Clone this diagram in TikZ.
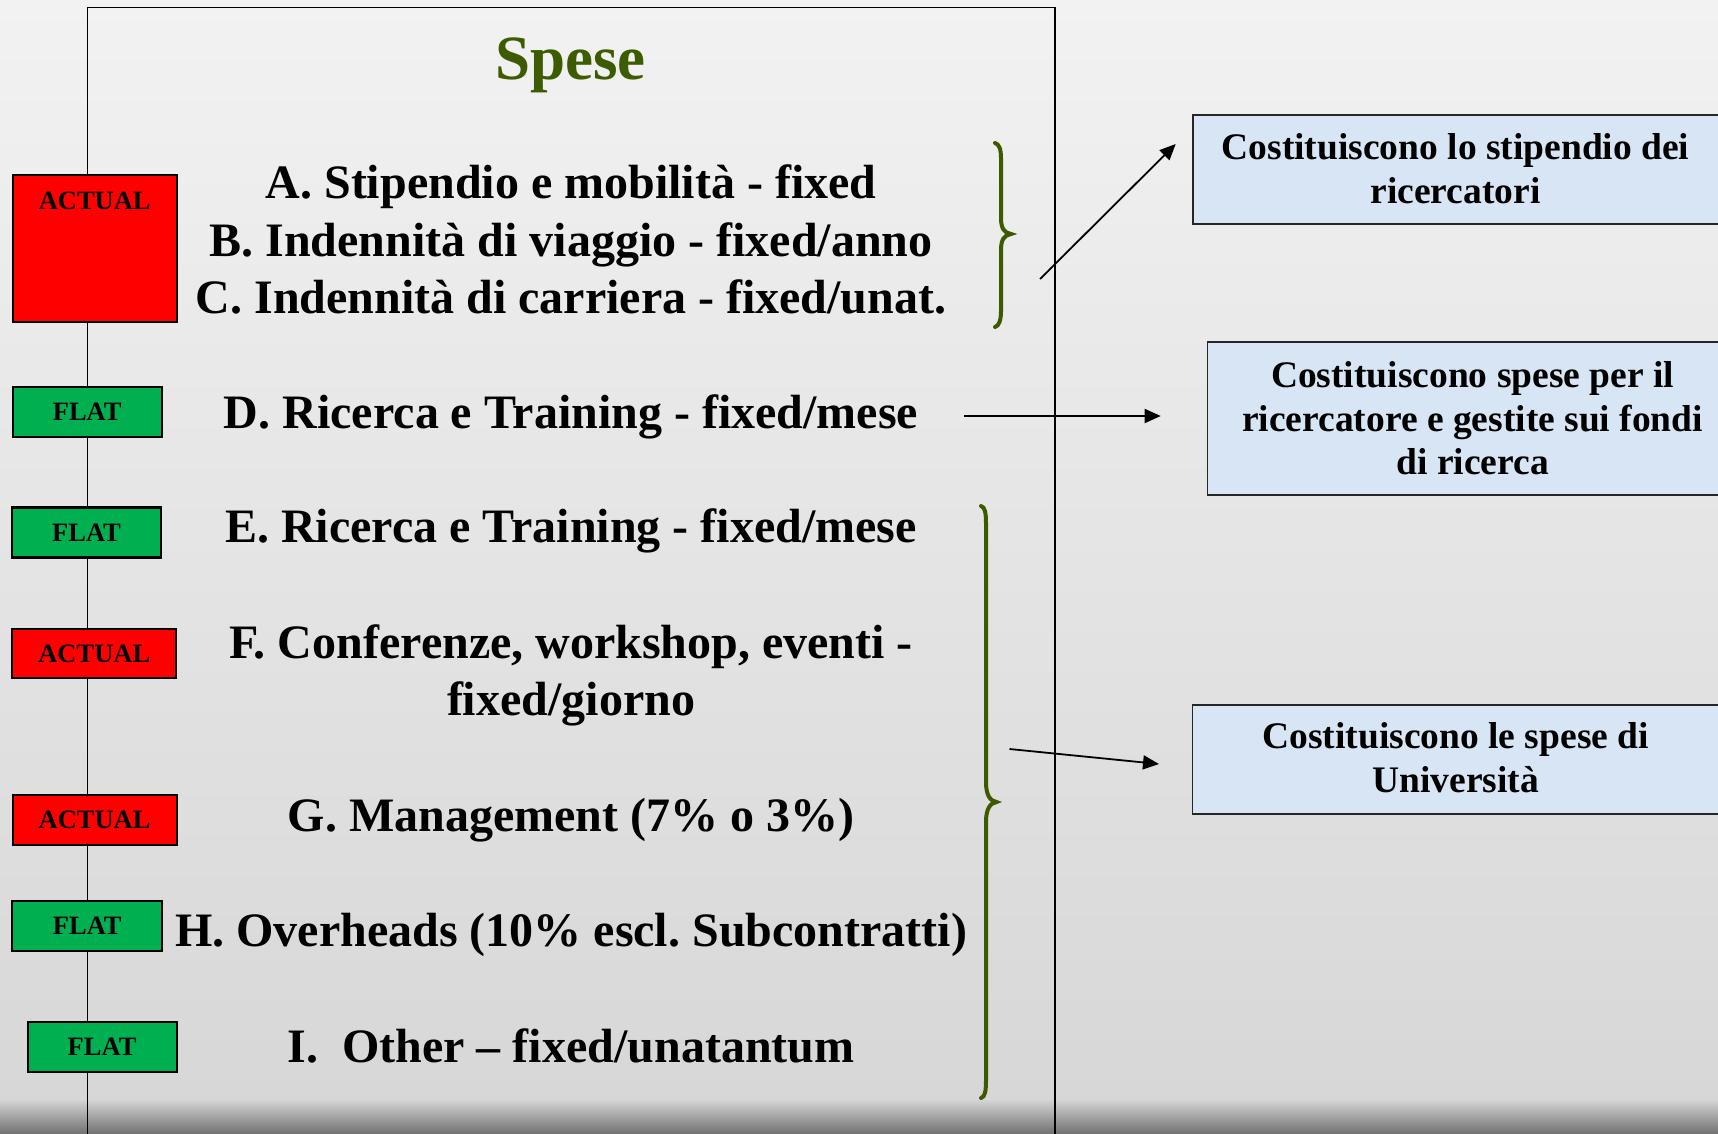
\documentclass[tikz,border=0pt]{standalone}
\usepackage{fontspec}
\setmainfont{Liberation Serif}
\usetikzlibrary{arrows.meta}
\definecolor{spgreen}{RGB}{61,92,0}
\definecolor{brgreen}{RGB}{62,90,0}
\definecolor{flatgreen}{RGB}{0,176,80}
\definecolor{actred}{RGB}{255,0,0}
\definecolor{boxblue}{RGB}{215,229,244}
\definecolor{bgA}{RGB}{242,242,242}
\definecolor{bgB}{RGB}{215,215,215}
\definecolor{bgC}{RGB}{112,112,112}
\frenchspacing
\begin{document}
\begin{tikzpicture}[x=1pt,y=-1pt,
  tag/.style={draw=black, line width=2.2pt, inner sep=0pt, font=\fontsize{26.5}{30}\selectfont\bfseries},
  actualtag/.style={tag, fill=actred},
  flattag/.style={tag, fill=flatgreen},
  taglabel/.style={font=\fontsize{26.5}{30}\selectfont\bfseries, inner sep=0pt, anchor=base},
  item/.style={font=\fontsize{48}{57}\selectfont\bfseries, inner sep=0pt, anchor=base},
  notebox/.style={draw=black!85, line width=1.8pt, fill=boxblue, inner sep=0pt},
  notetext/.style={font=\fontsize{37.5}{44}\selectfont\bfseries, inner sep=0pt, anchor=base},
  conn/.style={line width=1.8pt, -{Triangle[length=16pt,width=14pt]}},
  brace/.style={draw=brgreen, line width=4pt, line cap=round},
]
\useasboundingbox (0,0) rectangle (1718,1133);
% background
\shade[top color=bgA, bottom color=bgB] (0,-1) rectangle (1718,1100);
\shade[top color=bgB, bottom color=bgC] (0,1099) rectangle (1718,1134);

% frame
\draw[line width=1.9pt] (87.5,1140) -- (87.5,7.5) -- (1055,7.5) -- (1055,1140);

% title
\node[font=\fontsize{63}{70}\selectfont\bfseries, text=spgreen, inner sep=0pt, anchor=base] (title) at (570.5,79.5) {Spese};

% items
\node[item] (itemA) at (571,198) {A. Stipendio e mobilità - fixed};
\node[item] (itemB) at (571,256) {B. Indennità di viaggio - fixed/anno};
\node[item] (itemC) at (571,313) {C. Indennità di carriera - fixed/unat.};
\node[item] (itemD) at (571,428) {D. Ricerca e Training - fixed/mese};
\node[item] (itemE) at (571,542) {E. Ricerca e Training - fixed/mese};
\node[item] (itemF1) at (571,658) {F. Conferenze, workshop, eventi -};
\node[item] (itemF2) at (571,715) {fixed/giorno};
\node[item] (itemG) at (571,831.5) {G. Management (7\% o 3\%)};
\node[item] (itemH) at (571,946) {H. Overheads (10\% escl. Subcontratti)};
\node[item] (itemI) at (571,1062) {I.~~Other – fixed/unatantum};

% tags
\node[actualtag, minimum width=164pt, minimum height=147pt] (tagA) at (94.7,248.5) {};
\node[taglabel] (tagAlabel) at (94.7,209) {ACTUAL};
\node[flattag, minimum width=149pt, minimum height=50pt] (tagD) at (87.2,412) {FLAT};
\node[flattag, minimum width=149pt, minimum height=50pt] (tagE) at (86.5,532.5) {FLAT};
\node[actualtag, minimum width=164pt, minimum height=49pt] (tagF) at (94.3,653.5) {ACTUAL};
\node[actualtag, minimum width=164pt, minimum height=50pt] (tagG) at (94.6,820.2) {ACTUAL};
\node[flattag, minimum width=150pt, minimum height=50pt] (tagH) at (87.3,926.2) {FLAT};
\node[flattag, minimum width=149pt, minimum height=50pt] (tagI) at (102.1,1047) {FLAT};

% braces
\draw[brace] (995,143) .. controls (999,144) and (1001,149) .. (1001,158)
  -- (1001,218) .. controls (1001,228) and (1004,233) .. (1011,234)
  .. controls (1004,235) and (1001,240) .. (1001,250)
  -- (1001,311) .. controls (1001,320) and (999,326) .. (995,327);
\draw[brace] (981,506) .. controls (985,507) and (986,513) .. (986,524)
  -- (986,782) .. controls (986,795) and (990,801) .. (996.5,802)
  .. controls (990,803) and (986,809) .. (986,822)
  -- (986,1080) .. controls (986,1091) and (985,1097) .. (981,1098);

% note boxes
\node[notebox, minimum width=530pt, minimum height=109pt, anchor=north west] (note1) at (1191.7,114) {};
\node[notetext] (note1a) at (1455.5,159.3) {Costituiscono lo stipendio dei};
\node[notetext] (note1b) at (1455.5,203) {ricercatori};
\node[notebox, minimum width=540pt, minimum height=153pt, anchor=north west] (note2) at (1206.5,341) {};
\node[notetext] (note2a) at (1472.6,387.3) {Costituiscono spese per il};
\node[notetext] (note2b) at (1472.6,431.5) {ricercatore e gestite sui fondi};
\node[notetext] (note2c) at (1472.6,474) {di ricerca};
\node[notebox, minimum width=530pt, minimum height=109pt, anchor=north west] (note3) at (1191.5,704) {};
\node[notetext] (note3a) at (1455.7,748.3) {Costituiscono le spese di};
\node[notetext] (note3b) at (1455.7,792.7) {Università};

% connectors
\coordinate (a1s) at (1040,279);
\coordinate (a1e) at (1175.7,144);
\coordinate (a2s) at (964,416);
\coordinate (a2e) at (1160.7,416);
\coordinate (a3s) at (1009.5,749);
\coordinate (a3e) at (1159,764);
\draw[conn] (a1s) -- (a1e);
\draw[conn] (a2s) -- (a2e);
\draw[conn] (a3s) -- (a3e);
\end{tikzpicture}
\end{document}
